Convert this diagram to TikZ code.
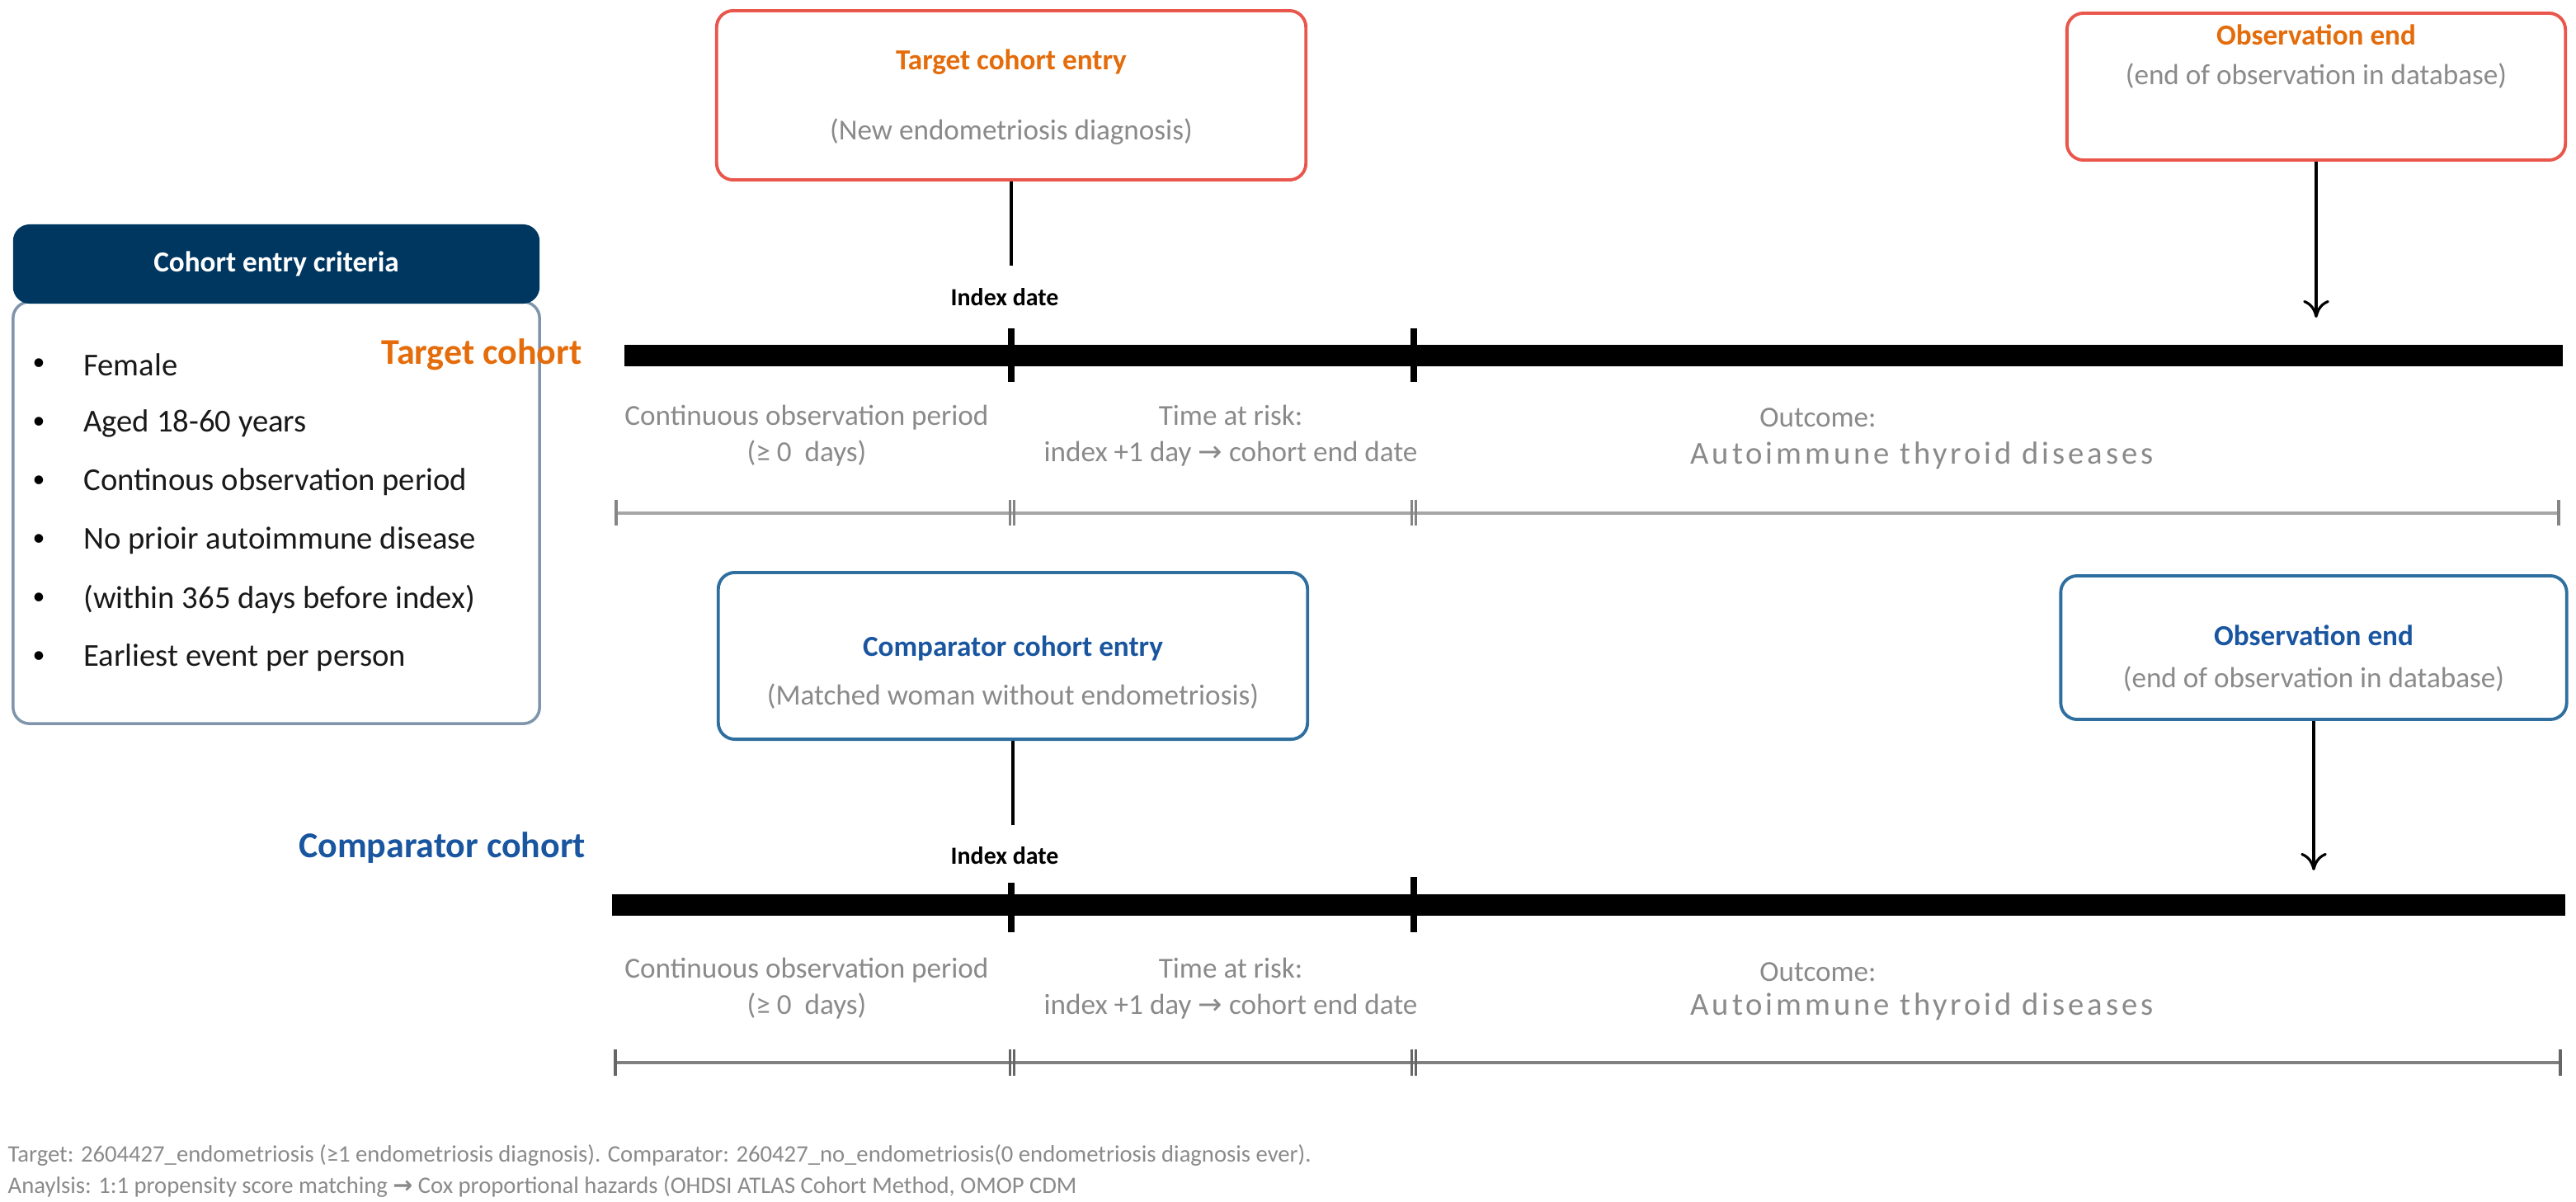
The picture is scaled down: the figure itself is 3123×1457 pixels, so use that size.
\documentclass[tikz,border=0pt]{standalone}
\usepackage{fontspec}
\setmainfont{Carlito}
\newfontfamily\symfont{DejaVu Sans}
\usetikzlibrary{arrows.meta,positioning}

\definecolor{tgtorange}{HTML}{E46C0A}
\definecolor{tgtred}{HTML}{E9564B}
\definecolor{cmpblue}{HTML}{1A56A0}
\definecolor{cmpframe}{HTML}{2F6F9F}
\definecolor{navy}{HTML}{003761}
\definecolor{critframe}{HTML}{7E95AB}
\definecolor{notegray}{HTML}{8A8A8A}
\definecolor{rulegray}{HTML}{A6A6A6}

\newcommand{\thinarr}{{\symfont\char"2192}}
\newcommand{\boldarr}{{\symfont\bfseries\char"2192}}

\tikzset{
  entrybox/.style={draw, rounded corners=0.2cm, line width=1.1pt, fill=white, inner sep=0pt},
  boxtitle/.style={font=\fontsize{10}{12}\selectfont\bfseries},
  boxnote/.style={font=\fontsize{10}{12}\selectfont, text=notegray},
  cohortlbl/.style={font=\fontsize{12.5}{15}\selectfont\bfseries},
  idxlbl/.style={font=\fontsize{8.5}{10}\selectfont\bfseries},
  phase/.style={font=\fontsize{10}{12.6}\selectfont, text=notegray, align=center},
  widephase/.style={font=\fontsize{11}{12.6}\selectfont\addfontfeature{LetterSpace=10}, text=notegray},
  critem/.style={font=\fontsize{11}{13}\selectfont, text=black!90, anchor=west},
  note/.style={font=\fontsize{8.15}{9}\selectfont, text=notegray, anchor=west, inner sep=0pt},
  timebar/.style={line width=0.26cm},
  timetick/.style={line width=0.08cm},
  spanline/.style={line width=0.035cm},
}

\begin{document}
\begin{tikzpicture}[x=0.01cm,y=-0.01cm]
  \useasboundingbox (0,0) rectangle (3123,1457);

  % criteria panel
  \node[draw=critframe, line width=1pt, rounded corners=0.2cm, minimum width=6.38cm, minimum height=5.11cm] (critbody) at (335,621.5) {};
  \node[fill=navy, rounded corners=0.2cm, minimum width=6.38cm, minimum height=0.96cm, text=white, font=\fontsize{10}{12}\selectfont\bfseries] (crithead) at (335,320) {Cohort entry criteria};
  \foreach \txt [count=\i from 0] in {Female, Aged 18-60 years, Continous observation period, No prioir autoimmune disease, (within 365 days before index), Earliest event per person}{
    \node[critem] (crit\i) at (89,{442+71*\i}) {\txt};
    \node[font=\fontsize{8.5}{10}\selectfont] at (47,{442+71*\i}) {\textbullet};
  }

  % target cohort
  \node[cohortlbl, text=tgtorange] (tlbl) at (584,430) {Target cohort};
  \draw[timebar] (757,430.5) -- (3107,430.5);
  \draw[timetick] (1226,398) -- (1226,463);
  \draw[timetick] (1714,398) -- (1714,463);

  \node[entrybox, draw=tgtred, minimum width=7.14cm, minimum height=2.05cm] (tentry) at (1226,115.5) {};
  \node[boxtitle, text=tgtorange] (tentrytitle) at (1226,75) {Target cohort entry};
  \node[boxnote] (tentrynote) at (1226,160) {(New endometriosis diagnosis)};
  \coordinate (tidxtop) at (1226,322);
  \draw[line width=0.9pt] (tentry.south) -- (tidxtop);
  \node[idxlbl] (tidx) at (1218,360) {Index date};

  \node[entrybox, draw=tgtred, minimum width=6.04cm, minimum height=1.78cm] (tobs) at (2808,105) {};
  \node[boxtitle, text=tgtorange] (tobstitle) at (2808,42) {Observation end};
  \node[boxnote] (tobsnote) at (2808,92) {(end of observation in database)};
  \coordinate (tobsend) at (2808,385);
  \draw[line width=0.9pt, -{To[length=6pt,width=9pt]}] (tobs.south) -- (tobsend);

  \node[phase] (tpre) at (978,528) {Continuous observation period\\(≥ 0\ \ days)};
  \node[phase] (trisk) at (1492,528) {Time at risk:\\index +1 day \thinarr{} cohort end date};
  \node[phase] (tout) at (2204,506) {Outcome:};
  \node[widephase] (toutdis) at (2330,552) {Autoimmune thyroid diseases};

  \draw[spanline, draw=rulegray] (747,622) -- (3102,622);
  \draw[spanline, draw=rulegray!80!black] (747,606) -- (747,637) (3102,606) -- (3102,637)
    (1224.5,606) -- (1224.5,637) (1229.5,606) -- (1229.5,637)
    (1711.5,606) -- (1711.5,637) (1716.5,606) -- (1716.5,637);

  % comparator cohort
  \node[cohortlbl, text=cmpblue] (clbl) at (536,1028) {Comparator cohort};
  \draw[timebar] (742,1096.5) -- (3110,1096.5);
  \draw[timetick] (1226,1070) -- (1226,1130);
  \draw[timetick] (1714,1063) -- (1714,1130);

  \node[entrybox, draw=cmpframe, minimum width=7.14cm, minimum height=2.02cm] (centry) at (1228,795) {};
  \node[boxtitle, text=cmpblue] (centrytitle) at (1228,786) {Comparator cohort entry};
  \node[boxnote] (centrynote) at (1228,844) {(Matched woman without endometriosis)};
  \coordinate (cidxtop) at (1228,1000);
  \draw[line width=0.9pt] (centry.south) -- (cidxtop);
  \node[idxlbl] (cidx) at (1218,1037) {Index date};

  \node[entrybox, draw=cmpframe, minimum width=6.13cm, minimum height=1.74cm] (cobs) at (2805,785) {};
  \node[boxtitle, text=cmpblue] (cobstitle) at (2805,770) {Observation end};
  \node[boxnote] (cobsnote) at (2805,823) {(end of observation in database)};
  \coordinate (cobsend) at (2805,1055);
  \draw[line width=0.9pt, -{To[length=6pt,width=9pt]}] (cobs.south) -- (cobsend);

  \node[phase] (cpre) at (978,1198) {Continuous observation period\\(≥ 0\ \ days)};
  \node[phase] (crisk) at (1492,1198) {Time at risk:\\index +1 day \thinarr{} cohort end date};
  \node[phase] (cout) at (2204,1178) {Outcome:};
  \node[widephase] (coutdis) at (2330,1220) {Autoimmune thyroid diseases};

  \draw[spanline, draw=gray] (746,1288) -- (3104,1288);
  \draw[spanline, draw=gray!80!black] (746,1272) -- (746,1304) (3104,1272) -- (3104,1304)
    (1224.5,1272) -- (1224.5,1304) (1229.5,1272) -- (1229.5,1304)
    (1711.5,1272) -- (1711.5,1304) (1716.5,1272) -- (1716.5,1304);

  % footnote
  \node[note] (note1) at (9,1400) {Target: 2604427\_endometriosis (≥1 endometriosis diagnosis). Comparator: 260427\_no\_endometriosis(0 endometriosis diagnosis ever).};
  \node[note] (note2) at (9,1438) {Anaylsis: 1:1 propensity score matching \boldarr{} Cox proportional hazards (OHDSI ATLAS Cohort Method, OMOP CDM};
\end{tikzpicture}
\end{document}
